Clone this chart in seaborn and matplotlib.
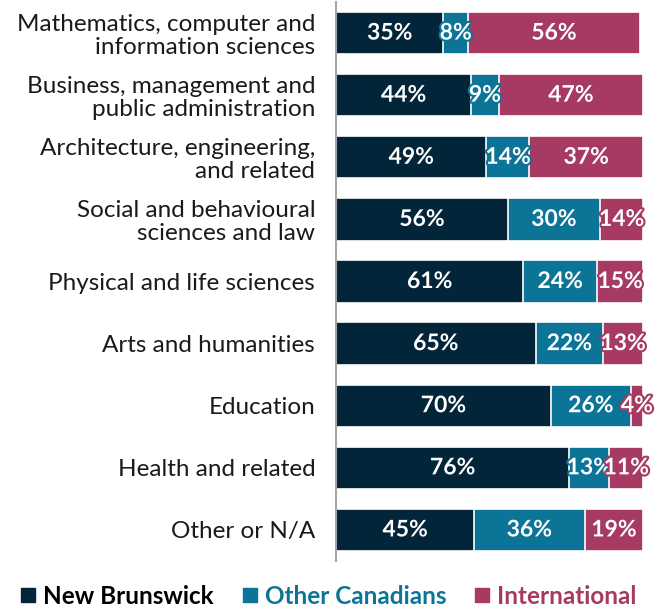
import matplotlib
matplotlib.use("Agg")
import matplotlib.pyplot as plt
import matplotlib.patheffects as pe
from matplotlib.lines import Line2D
import seaborn as sns
import pandas as pd
import numpy as np

categories = [
    "Mathematics, computer and\ninformation sciences",
    "Business, management and\npublic administration",
    "Architecture, engineering,\nand related",
    "Social and behavioural\nsciences and law",
    "Physical and life sciences",
    "Arts and humanities",
    "Education",
    "Health and related",
    "Other or N/A",
]
new_brunswick = [35, 44, 49, 56, 61, 65, 70, 76, 45]
other_canadians = [8, 9, 14, 30, 24, 22, 26, 13, 36]
international = [56, 47, 37, 14, 15, 13, 4, 11, 19]
series_names = ["New Brunswick", "Other Canadians", "International"]
colors = ["#03253a", "#0c7497", "#a63a62"]

sns.set_theme(style="white")
plt.rcParams["font.family"] = ["Lato", "DejaVu Sans"]

df = pd.DataFrame({
    "category": categories,
    "nb": new_brunswick,
    "oc": other_canadians,
    "intl": international,
})
df["cum_oc"] = df["nb"] + df["oc"]
df["cum_all"] = df["cum_oc"] + df["intl"]

fig = plt.figure(figsize=(6.55, 6.06), dpi=100)
ax = fig.add_axes([336 / 655, 1 - 561 / 606, (643 - 336) / 655, 559 / 606])

bw = 0.68
for col, c in zip(["cum_all", "cum_oc", "nb"], colors[::-1]):
    sns.barplot(data=df, y="category", x=col, orient="h", color=c,
                width=bw, edgecolor="white", linewidth=1.2, saturation=1,
                ax=ax, zorder=2)

for i in range(len(categories)):
    lefts = [0, new_brunswick[i], new_brunswick[i] + other_canadians[i]]
    vals = [new_brunswick[i], other_canadians[i], international[i]]
    for left, v, c in zip(lefts, vals, colors):
        ax.text(left + v / 2, i, f"{v}%", ha="center", va="center",
                color="white", fontsize=16.5, fontweight="bold", zorder=5,
                path_effects=[pe.withStroke(linewidth=3, foreground=c)])

ax.set_xlim(0, 100)
ax.set_ylim(len(categories) - 0.5, -0.5)
ax.set_xlabel("")
ax.set_ylabel("")
ax.set_xticks([])
ax.tick_params(axis="y", length=0, pad=15, labelsize=17.5, colors="#1a1a1a")
for lab in ax.get_yticklabels():
    lab.set_multialignment("right")
    lab.set_linespacing(1.12)
for s in ["top", "right", "bottom"]:
    ax.spines[s].set_visible(False)
ax.spines["left"].set_color("#a6a6a6")
ax.spines["left"].set_linewidth(1.5)

handles = [Line2D([0], [0], marker="s", linestyle="", markersize=10,
                  markerfacecolor=c, markeredgecolor=c) for c in colors]
leg = fig.legend(handles, series_names, loc="center", ncol=3,
                 bbox_to_anchor=(0.5, 1 - 596 / 606),
                 frameon=False, fontsize=17.5, handletextpad=0.2,
                 columnspacing=1.1, handlelength=0.8)
for t, c in zip(leg.get_texts(), ["#000000", colors[1], colors[2]]):
    t.set_color(c)
    t.set_fontweight("bold")

fig.savefig("out.png", dpi=100)
